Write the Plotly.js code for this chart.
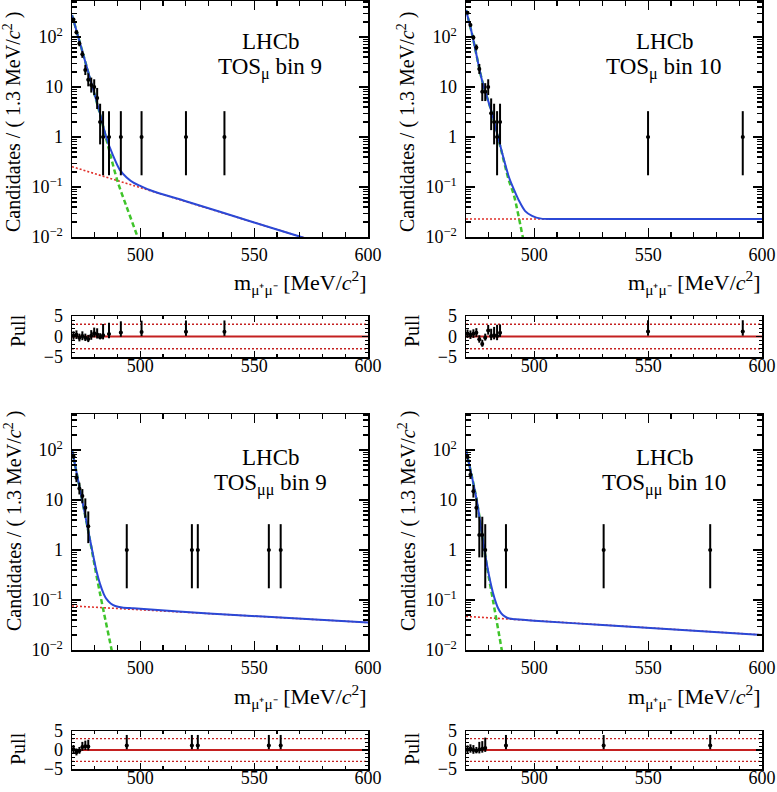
<!DOCTYPE html>
<html><head><meta charset="utf-8">
<script src="https://cdn.plot.ly/plotly-3.0.1.min.js"></script>
<style>html,body{margin:0;padding:0;background:#fff}</style>
</head><body><div id="chart" style="width:777px;height:792px"></div>
<script>
// ================= DATA =================
const binHalfWidth = 0.65;
const panelLabels = ['TOS<sub>μ</sub> bin 9', 'TOS<sub>μ</sub> bin 10', 'TOS<sub>μμ</sub> bin 9', 'TOS<sub>μμ</sub> bin 10'];
const massTicks = [500, 550, 600];
const massTickText = ['500', '550', '600'];
const yTicks = [0.01, 0.1, 1, 10, 100];
const yTickText = ['10<sup>−2</sup>', '10<sup>−1</sup>', '1', '10', '10<sup>2</sup>'];
const pullTicks = [-5, 0, 5];
const pullTickText = ['−5', '0', '5'];

// TOS_mu bin 9
const tlMass   = [470.65, 471.95, 473.25, 474.55, 475.85, 477.15, 478.45, 479.75, 481.05, 482.35, 483.65, 486.25, 491.45, 500.55, 520.05, 536.95];
const tlCounts = [225, 124, 74, 45, 22, 14, 11, 10, 6, 2, 1, 1, 1, 1, 1, 1];
const tlPull   = [0.2, 0.4, -0.3, 0.1, -0.3, -0.6, 0.2, 0.8, 0.5, -0.2, 0.3, 0.6, 0.95, 1.1, 1.15, 1.15];
const tlTotM = [470, 473, 476, 479, 482, 485, 488, 491, 494, 497, 500, 505, 520, 550, 570, 600];
const tlTotV = [275, 91, 30, 10, 3.3, 1.0, 0.43, 0.22, 0.155, 0.122, 0.105, 0.084, 0.052, 0.0195, 0.0102, 0.0039];
const tlSigM = [470, 476, 482, 486, 490, 494, 498.5, 502];
const tlSigV = [275, 30, 3.2, 0.62, 0.13, 0.04, 0.011, 0.004];
const tlBkgM = [470, 600];
const tlBkgV = [0.255, 0.0039];

// TOS_mu bin 10
const trMass   = [470.65, 471.95, 473.25, 474.55, 475.85, 477.15, 478.45, 479.75, 481.05, 482.35, 483.65, 484.95, 549.95, 591.55];
const trCounts = [306, 174, 98, 62, 23, 8, 8, 10, 3, 2, 1, 2, 1, 1];
const trPull   = [0.65, 0.4, 0.65, 0.9, -0.7, -1.8, -0.3, 1.45, 0.1, 0.3, 0.1, 0.9, 1.2, 1.2];
const trTotM = [470, 472.6, 477, 481.4, 484.4, 488.8, 491, 493.1, 496, 499, 503, 510, 600];
const trTotV = [347, 118, 13.8, 3.0, 0.87, 0.16, 0.09, 0.055, 0.033, 0.0265, 0.0233, 0.0229, 0.0229];
const trSigM = [470, 472.6, 477, 481.4, 484.4, 488.8, 491, 494.9, 498];
const trSigV = [347, 118, 13.8, 3.0, 0.85, 0.137, 0.07, 0.0102, 0.002];
const trBkgM = [470, 600];
const trBkgV = [0.0229, 0.0229];

// TOS_mumu bin 9
const blMass   = [470.65, 471.95, 473.25, 474.55, 475.85, 477.15, 494.05, 522.65, 525.25, 556.45, 561.65];
const blCounts = [75, 28, 17, 12, 7, 3, 1, 1, 1, 1, 1];
const blPull   = [0.2, -0.6, -0.2, 0.8, 1.0, 0.9, 1.2, 1.2, 1.2, 1.2, 1.2];
const blTotM = [470, 474, 477.6, 479.4, 480.8, 482.3, 484, 485.2, 487, 489, 492, 497, 530, 600];
const blTotV = [100, 12.6, 1.9, 0.74, 0.37, 0.21, 0.13, 0.104, 0.085, 0.076, 0.071, 0.068, 0.0535, 0.0355];
const blSigM = [470, 474, 477.6, 480.8, 482.3, 484, 487.4, 489];
const blSigV = [100, 12.6, 1.85, 0.3, 0.135, 0.056, 0.01, 0.004];
const blBkgM = [470, 600];
const blBkgV = [0.076, 0.0355];

// TOS_mumu bin 10
const brMass   = [470.65, 471.95, 473.25, 474.55, 475.85, 477.15, 478.45, 487.55, 530.45, 577.25];
const brCounts = [73, 32, 15, 7, 2, 2, 1, 1, 1, 1];
const brPull   = [0.1, 0.3, 0.0, -0.2, 0.1, 0.3, 0.5, 1.2, 1.2, 1.2];
const brTotM = [470, 474.7, 477, 479.1, 481, 482.5, 484, 485.5, 487, 489, 492, 500, 530, 600];
const brTotV = [100, 10, 2.1, 0.54, 0.2, 0.109, 0.07, 0.054, 0.047, 0.0425, 0.041, 0.0385, 0.0316, 0.02];
const brSigM = [470, 474.7, 479.1, 482, 485.7, 487.5];
const brSigV = [100, 10, 0.5, 0.09, 0.01, 0.003];
const brBkgM = [470, 600];
const brBkgV = [0.047, 0.02];

// ================= LAYOUT GEOMETRY (pixels) =================
const W = 777, H = 792;
const fx = p => p / W;
const fy = p => 1 - p / H;
const colX = [[72, 368], [466, 762]];
const mainY = [[1, 237], [414, 650]];
const pullY = [[316, 357], [731, 769]];

const FONT = 'Liberation Serif, Times New Roman, serif';
const BLUE = '#2b48d6', GREEN = '#3fc42a', RED = '#e0302a', PULLRED = '#c42020';

// Poisson (Garwood-like) asymmetric errors
function poisLo(n) { const a = 1 - 1/(9*n) - 1/(3*Math.sqrt(n)); return n - n*a*a*a; }
function poisHi(n) { const m = n + 1; const a = 1 - 1/(9*m) + 1/(3*Math.sqrt(m)); return m*a*a*a - n; }

const panels = [
  {m: tlMass, n: tlCounts, p: tlPull, tm: tlTotM, tv: tlTotV, sm: tlSigM, sv: tlSigV, bm: tlBkgM, bv: tlBkgV},
  {m: trMass, n: trCounts, p: trPull, tm: trTotM, tv: trTotV, sm: trSigM, sv: trSigV, bm: trBkgM, bv: trBkgV},
  {m: blMass, n: blCounts, p: blPull, tm: blTotM, tv: blTotV, sm: blSigM, sv: blSigV, bm: blBkgM, bv: blBkgV},
  {m: brMass, n: brCounts, p: brPull, tm: brTotM, tv: brTotV, sm: brSigM, sv: brSigV, bm: brBkgM, bv: brBkgV},
];

const traces = [];
const layout = {
  width: W, height: H, margin: {l:0, r:0, t:0, b:0},
  paper_bgcolor: 'white', plot_bgcolor: 'white', showlegend: false,
  font: {family: FONT, color: 'black', size: 18},
  annotations: [], shapes: []
};

function baseAxis() {
  return {
    showgrid: false, zeroline: false, showline: true, linecolor: 'black', linewidth: 1.5,
    mirror: 'ticks', ticks: 'inside', tickcolor: 'black', tickwidth: 1.2,
    tickfont: {family: FONT, size: 18, color: 'black'}
  };
}

panels.forEach((P, i) => {
  const col = i % 2, row = Math.floor(i / 2);
  const k = i + 1, kp = i + 5;
  const xa = 'x' + (k === 1 ? '' : k), ya = 'y' + (k === 1 ? '' : k);
  const xp = 'x' + kp, yp = 'y' + kp;

  layout['xaxis' + (k === 1 ? '' : k)] = Object.assign(baseAxis(), {
    domain: [fx(colX[col][0]), fx(colX[col][1])], range: [470, 600], anchor: ya,
    tickvals: massTicks, ticktext: massTickText, ticklen: 9,
    minor: {tick0: 470, dtick: 10, ticks: 'inside', ticklen: 5, tickcolor: 'black', tickwidth: 1.2, showgrid: false},
    ticklabelstandoff: 1
  });
  layout['yaxis' + (k === 1 ? '' : k)] = Object.assign(baseAxis(), {
    domain: [fy(mainY[row][1]), fy(mainY[row][0])], type: 'log', range: [-2, 2.72], anchor: xa,
    tickvals: yTicks, ticktext: yTickText, ticklen: 9,
    minor: {dtick: 'D1', ticks: 'inside', ticklen: 5, tickcolor: 'black', tickwidth: 1.2, showgrid: false},
    ticklabelstandoff: 4
  });
  layout['xaxis' + kp] = Object.assign(baseAxis(), {
    domain: [fx(colX[col][0]), fx(colX[col][1])], range: [470, 600], anchor: yp,
    tickvals: massTicks, ticktext: massTickText, ticklen: 6,
    minor: {tick0: 470, dtick: 10, ticks: 'inside', ticklen: 3, tickcolor: 'black', tickwidth: 1.2, showgrid: false},
    ticklabelstandoff: -8
  });
  layout['yaxis' + kp] = Object.assign(baseAxis(), {
    domain: [fy(pullY[row][1]), fy(pullY[row][0])], range: [-5, 5], anchor: xp,
    tickvals: pullTicks, ticktext: pullTickText, ticklen: 6,
    minor: {dtick: 1, ticks: 'inside', ticklen: 3, tickcolor: 'black', tickwidth: 1.2, showgrid: false},
    ticklabelstandoff: 4
  });

  traces.push({x: P.bm, y: P.bv, xaxis: xa, yaxis: ya, mode: 'lines', type: 'scatter',
    line: {color: RED, width: 1.6, dash: '2px,2px'}, hoverinfo: 'skip'});
  traces.push({x: P.sm, y: P.sv, xaxis: xa, yaxis: ya, mode: 'lines', type: 'scatter',
    line: {color: GREEN, width: 2.5, dash: '5px,3px', shape: 'spline', smoothing: 0.8}, hoverinfo: 'skip'});
  traces.push({x: P.tm, y: P.tv, xaxis: xa, yaxis: ya, mode: 'lines', type: 'scatter',
    line: {color: BLUE, width: 2, shape: 'spline', smoothing: 0.8}, hoverinfo: 'skip'});
  const lo = P.n.map(poisLo), hi = P.n.map(poisHi);
  const hw = P.m.map(() => binHalfWidth);
  traces.push({x: P.m, y: P.n, xaxis: xa, yaxis: ya, mode: 'markers', type: 'scatter',
    marker: {color: 'black', size: 4},
    error_y: {type: 'data', symmetric: false, array: hi, arrayminus: lo, color: 'black', thickness: 2, width: 0},
    error_x: {type: 'data', array: hw, color: 'black', thickness: 2, width: 0}});
  const pPlus = P.p.map((v, j) => v >= 0 ? hi[j] / lo[j] : 1);
  const pMinus = P.p.map((v, j) => v >= 0 ? 1 : lo[j] / hi[j]);
  traces.push({x: P.m, y: P.p, xaxis: xp, yaxis: yp, mode: 'markers', type: 'scatter',
    marker: {color: 'black', size: 4},
    error_y: {type: 'data', symmetric: false, array: pPlus, arrayminus: pMinus, color: 'black', thickness: 2, width: 0},
    error_x: {type: 'data', array: hw, color: 'black', thickness: 2, width: 0}});

  [[0, 'solid', 2.2], [3, '2px,2px', 1.4], [-3, '2px,2px', 1.4]].forEach(([yv, dash, w]) => {
    layout.shapes.push({type: 'line', xref: xp, yref: yp, x0: 470, x1: 600, y0: yv, y1: yv,
      line: {color: PULLRED, width: w, dash: dash}, layer: 'below'});
  });

  const cx = col === 0 ? 271 : 665;
  const ly = row === 0 ? 41 : 457;
  layout.annotations.push({xref: 'paper', yref: 'paper', x: fx(cx), y: fy(ly), text: 'LHCb',
    showarrow: false, xanchor: 'center', yanchor: 'middle', font: {family: FONT, size: 23, color: 'black'}});
  layout.annotations.push({xref: 'paper', yref: 'paper', x: fx(cx - 1), y: fy(ly + 27), text: panelLabels[i],
    showarrow: false, xanchor: 'center', yanchor: 'middle', font: {family: FONT, size: 23, color: 'black'}});
  layout.annotations.push({xref: 'paper', yref: 'paper', x: fx(colX[col][1] + 1), y: fy(mainY[row][1] + 46),
    text: 'm<sub>μ⁺μ⁻</sub> [MeV/<i>c</i><sup>2</sup>]', showarrow: false, xanchor: 'right', yanchor: 'middle',
    font: {family: FONT, size: 22, color: 'black'}});
  const ytx = col === 0 ? 13 : 407;
  layout.annotations.push({xref: 'paper', yref: 'paper', x: fx(ytx), y: fy(row === 0 ? 122 : 521),
    text: 'Candidates / ( 1.3 MeV/<i>c</i><sup>2</sup> )', textangle: -90, showarrow: false,
    xanchor: 'center', yanchor: 'middle', font: {family: FONT, size: 20, color: 'black'}});
  layout.annotations.push({xref: 'paper', yref: 'paper', x: fx(col === 0 ? 18 : 412), y: fy(row === 0 ? 331 : 749),
    text: 'Pull', textangle: -90, showarrow: false, xanchor: 'center', yanchor: 'middle',
    font: {family: FONT, size: 20, color: 'black'}});
});

Plotly.newPlot('chart', traces, layout, {staticPlot: true, displayModeBar: false});
</script></body></html>
